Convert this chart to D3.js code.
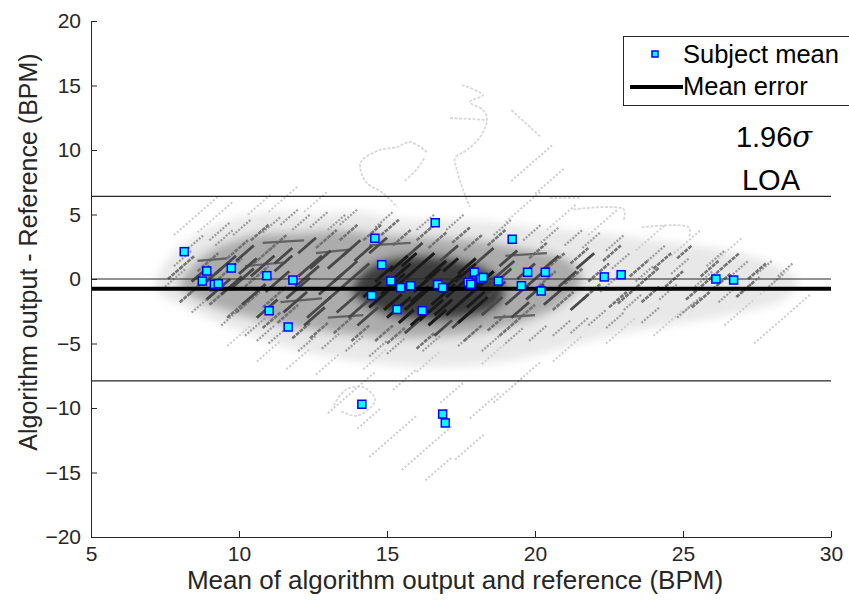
<!DOCTYPE html>
<html>
<head>
<meta charset="utf-8">
<script src="https://cdn.jsdelivr.net/npm/d3@7"></script>
<style>
  body { margin: 0; background: #fff; }
  svg { display: block; font-family: "Liberation Sans", Arial, sans-serif; }
</style>
</head>
<body>
<div id="chart"></div>
<script>
// Subject means (x = mean of output and reference, y = difference)
const subjectX = [8.15, 8.91, 8.76, 9.17, 9.30, 9.74, 10.94, 11.82, 11.02, 11.66,
                  14.59, 14.82, 15.13, 15.46, 15.80, 14.48, 15.34, 16.19, 16.63, 16.71,
                  16.88, 17.74, 17.83, 17.95, 18.17, 18.25, 18.76, 19.23, 19.75, 20.35,
                  19.54, 20.21, 22.34, 22.91, 26.11, 26.71, 14.15, 16.88, 16.97];
const subjectY = [2.12, 0.62, -0.16, -0.41, -0.36, 0.85, 0.26, -0.08, -2.46, -3.72,
                  3.16, 1.11, -0.16, -0.67, -0.52, -1.28, -2.36, -2.46, 4.36, -0.43,
                  -0.67, -0.25, -0.41, 0.53, 0.0, 0.12, -0.16, 3.08, 0.52, 0.52,
                  -0.52, -0.93, 0.16, 0.33, 0.0, -0.08, -9.71, -10.47, -11.16];

const meanError = -0.75;
const upperLOA = 6.4;
const lowerLOA = -7.9;

const xTicks = [5, 10, 15, 20, 25, 30];
const yTicks = [-20, -15, -10, -5, 0, 5, 10, 15, 20];

// Envelopes of the per-sample cloud (outer, middle, core)
const hazeOuter = [[7.2,-0.8],[7.5,1.2],[8.3,3.0],[9.5,4.4],[11,5.2],[12.5,5.0],[14,5.2],[15.5,4.6],
  [17,4.6],[18.5,4.4],[20,4.0],[22,3.6],[24,3.0],[26,2.4],[27.8,1.4],[28.9,-0.2],[28.2,-1.8],
  [26.5,-2.8],[24.5,-3.6],[22.5,-4.4],[20.5,-5.6],[19,-6.4],[17,-6.8],[15,-6.6],[13,-6.0],
  [11.2,-5.0],[9.6,-3.6],[8.2,-2.2]];
const hazeMid = [[8.0,-0.6],[8.4,1.0],[9.2,2.4],[10.5,3.4],[12,3.6],[13.5,3.8],[15,3.4],[16.5,3.2],
  [18,3.0],[19.5,2.4],[21,1.6],[21.6,0],[21,-1.8],[19.8,-3.2],[18,-4.2],[16,-4.6],[14,-4.4],
  [12,-3.8],[10.4,-3.0],[9,-2.0]];
const hazeCore = [[13.8,-0.8],[14.4,1.0],[15.6,1.8],[17,1.7],[18.4,0.8],[19.0,-0.8],[18.6,-2.4],
  [17.2,-3.2],[15.6,-3.1],[14.4,-2.2]];

// Per-sample streaks [x1, y1, x2, y2]
const coreStreaks = [[14.4,-2.2,15.2,-0.6],[14.8,-1.2,15.6,0.4],[15.0,-3.0,15.8,-1.4],[15.3,-0.6,16.0,0.8],
  [15.6,-2.4,16.4,-0.8],[15.9,-1.0,16.6,0.4],[16.1,-3.2,16.9,-1.6],[16.3,0.0,17.0,1.4],[16.5,-2.0,17.3,-0.4],
  [16.8,-1.0,17.5,0.4],[17.0,-2.8,17.8,-1.2],[17.3,-0.2,18.0,1.2],[17.5,-1.8,18.3,-0.2],[17.9,-0.8,18.6,0.6],
  [15.1,0.6,15.7,1.8],[16.0,0.8,16.6,2.0],[17.8,-2.6,18.4,-1.4],[14.6,-0.2,15.2,1.0],[16.4,-3.6,17.0,-2.4],
  [15.4,-3.4,15.9,-2.4],[14.2,-1.4,14.8,-0.2],[14.9,-2.4,15.5,-1.2],[15.2,0.0,15.8,1.2],[15.8,-1.8,16.4,-0.6],
  [16.2,-0.4,16.8,0.8],[16.6,-2.8,17.2,-1.6],[17.0,-1.4,17.6,-0.2],[17.4,0.4,18.0,1.6],[17.7,-2.2,18.3,-1.0],
  [18.0,-0.6,18.6,0.6],[15.5,1.0,16.0,2.0],[16.9,0.6,17.4,1.6],[15.8,-3.6,16.4,-2.4],[17.4,-3.4,18.0,-2.2]];
const darkStreaks = [[11.6,-1.5,12.4,0.1],[12.0,0.2,12.8,1.8],[12.3,-3.0,13.1,-1.4],[12.7,-1.2,13.5,0.4],
  [13.0,0.8,13.7,2.2],[13.3,-2.6,14.1,-1.0],[13.6,-0.4,14.4,1.2],[13.9,1.4,14.5,2.6],[14.0,-3.6,14.7,-2.2],
  [14.4,2.0,15.0,3.2],[15.6,1.6,16.2,2.8],[16.8,1.4,17.4,2.6],[17.2,-3.8,17.8,-2.6],[18.2,-2.8,18.9,-1.4],
  [18.5,-0.6,19.2,0.8],[18.8,1.0,19.4,2.2],[19.0,-2.0,19.7,-0.6],[19.4,0.0,20.0,1.2],[19.7,-1.6,20.3,-0.4],
  [18.0,1.2,18.6,2.4],[16.6,-4.4,17.2,-3.2],[15.6,-4.2,16.2,-3.0],[12.0,2.0,12.6,3.2],[11.2,0.6,11.8,1.8],
  [9.4,-1.2,10.1,0.2],[10.0,0.4,10.6,1.6],[8.8,-0.4,9.4,0.8],
  [8.9,-1.6,9.7,0.0],[9.2,0.4,9.9,1.8],[9.7,-0.8,10.5,0.8],[10.1,-2.0,10.9,-0.4],[10.4,0.2,11.2,1.8],
  [10.9,-1.0,11.7,0.6],[11.2,1.2,11.8,2.4],[11.5,-2.6,12.3,-1.0],[11.9,-0.6,12.7,1.0],[12.4,0.8,13.1,2.2],
  [12.8,-2.0,13.6,-0.4],[13.2,-0.2,14.0,1.4],[13.5,1.8,14.1,3.0],[8.4,-0.2,9.0,1.0],[9.9,1.4,10.5,2.6],
  [10.6,-3.0,11.3,-1.6],[12.2,-3.6,12.9,-2.2],[13.7,-3.0,14.4,-1.6],
  [18.3,-1.6,19.0,-0.2],[18.7,0.2,19.3,1.4],[19.2,-3.0,19.8,-1.8],[19.6,-0.8,20.3,0.6],[20.2,0.6,20.8,1.8],
  [20.3,-2.0,20.9,-0.8],[20.8,-0.6,21.4,0.6],[21.2,-2.4,21.8,-1.2],[21.4,0.8,22.0,2.0]];
// Flat runs where output and reference drift together
const darkFlats = [[9.0,-0.9,10.6,-0.7],[10.2,1.0,11.6,1.3],[11.4,-1.8,12.8,-1.5],[12.6,2.0,13.8,2.3],
  [8.6,1.4,9.6,1.6],[13.0,-3.0,14.2,-2.8],[14.4,2.6,15.8,2.8],[18.6,-3.0,20.0,-2.8],[19.0,1.8,20.4,2.0],
  [10.8,2.8,12.2,3.0]];
const midStreaks = [[8.3,-1.2,9.1,0.4],[8.6,0.6,9.3,2.0],[9.0,-2.0,9.8,-0.4],[9.3,0.0,10.1,1.6],
  [9.6,1.6,10.3,3.0],[9.9,-2.6,10.7,-1.0],[10.2,-0.6,11.0,1.0],[10.5,1.2,11.2,2.6],[10.8,-2.2,11.6,-0.6],
  [11.0,2.2,11.6,3.4],[11.3,-3.4,12.0,-2.0],[10.4,3.0,11.0,4.2],[12.6,2.4,13.3,3.8],[13.2,-4.2,13.9,-2.8],
  [14.2,3.0,14.8,4.2],[15.2,2.6,15.8,3.8],[16.4,2.4,17.0,3.6],[17.6,2.2,18.2,3.4],[18.4,-4.0,19.0,-2.8],
  [19.3,-3.4,20.0,-2.0],[19.8,1.6,20.4,2.8],[20.0,-0.8,20.7,0.6],[20.4,0.8,21.0,2.0],[20.6,-2.4,21.3,-1.0],
  [21.0,-0.4,21.6,0.8],[21.2,1.2,21.8,2.4],[21.6,-1.6,22.2,-0.4],[8.0,0.8,8.5,1.8],[12.4,-4.6,13.0,-3.4],
  [14.6,-4.8,15.2,-3.6],[22.8,-1.9,24.2,0.9],[25.1,-1.6,26.4,1.0],
  [21.8,-0.2,22.5,1.2],[22.3,1.4,22.9,2.6],[22.5,-2.2,23.1,-1.0],[23.2,0.2,23.8,1.4],[23.6,-1.8,24.2,-0.6],
  [24.0,0.8,24.6,2.0],[24.4,-0.6,25.0,0.6],[24.8,1.6,25.3,2.6],[25.3,-2.2,25.9,-1.0],[25.6,0.2,26.2,1.4],
  [26.0,-0.8,26.6,0.4],[26.4,1.0,26.9,2.0],[26.8,-1.4,27.4,-0.2],[27.2,0.0,27.8,1.2],
  [13.4,3.0,14.0,4.2],[14.8,3.4,15.4,4.6],[16.0,3.0,16.6,4.2],[17.2,2.8,17.8,4.0],[18.4,2.6,19.0,3.8],
  [13.8,-4.8,14.4,-3.6],[15.0,-5.0,15.6,-3.8],[16.0,-5.4,16.6,-4.2],[17.6,-4.8,18.2,-3.6],[18.8,-4.4,19.4,-3.2],
  [11.8,-4.6,12.4,-3.4],[10.8,-3.8,11.4,-2.6],[9.6,-3.0,10.2,-1.8],[8.0,-1.8,8.6,-0.6],[7.6,0.0,8.1,1.0]];
const lightStreaks = [[7.5,-0.6,8.2,0.8],[7.8,1.0,8.4,2.2],[8.2,2.2,8.8,3.4],[8.4,-2.6,9.1,-1.2],
  [9.2,2.6,9.8,3.8],[9.4,-3.6,10.1,-2.2],[10.2,-4.4,10.9,-3.0],[10.8,3.6,11.4,4.8],[11.0,-5.0,11.6,-3.8],
  [11.8,3.8,12.4,5.0],[12.0,-5.6,12.6,-4.4],[13.0,3.8,13.6,5.0],[13.6,-5.6,14.2,-4.4],[15.0,-5.8,15.6,-4.6],
  [16.0,3.8,16.6,5.0],[16.2,-5.6,16.8,-4.4],[17.4,-5.2,18.0,-4.0],[18.6,3.4,19.2,4.6],[19.0,-5.0,19.6,-3.8],
  [20.2,2.8,20.8,4.0],[20.6,-4.4,21.2,-3.2],[21.6,2.4,22.2,3.6],[21.8,-3.6,22.4,-2.4],[22.2,-1.0,22.9,0.4],
  [22.6,0.8,23.2,2.0],[23.0,-2.4,23.6,-1.2],[23.4,-0.2,24.0,1.0],[23.8,1.4,24.4,2.6],[24.2,-1.6,24.8,-0.4],
  [24.6,0.4,25.2,1.6],[25.0,-2.6,25.6,-1.4],[25.4,-0.6,26.0,0.6],[25.8,1.0,26.4,2.2],[26.2,-1.8,26.8,-0.6],
  [26.6,0.2,27.2,1.4],[27.0,-1.0,27.6,0.2],[27.5,0.4,28.0,1.4],
  [9.0,3.0,9.7,4.4],[9.8,3.4,10.4,4.6],[11.4,4.2,12.0,5.4],[12.4,4.0,13.0,5.2],[13.4,4.2,14.0,5.4],
  [14.6,4.0,15.2,5.2],[17.0,3.8,17.6,5.0],[19.6,3.0,20.2,4.2],[21.0,2.6,21.6,3.8],[22.4,2.2,23.0,3.4],
  [24.8,-3.0,25.4,-1.8],[23.6,-3.4,24.2,-2.2],[22.4,-3.8,23.0,-2.6],[21.2,-4.2,21.8,-3.0],[19.8,-4.8,20.4,-3.6],
  [18.2,-5.6,18.8,-4.4],[14.4,-6.0,15.0,-4.8],[12.8,-5.4,13.4,-4.2],[10.6,-4.8,11.2,-3.6],[27.8,-0.8,28.4,0.4],
  [28.2,0.2,28.7,1.2]];
const faintStreaks = [[7.8,3.4,9.3,6.4],[8.6,3.6,9.8,6.0],[10.3,5.0,11.1,6.6],[11.0,5.2,12.0,7.2],
  [12.2,5.2,13.0,6.8],[9.6,-5.2,10.4,-3.6],[10.6,-6.4,11.4,-4.8],[11.6,-7.0,12.4,-5.4],[12.6,-7.4,13.4,-5.8],
  [13.0,-10.4,14.6,-7.2],[14.4,-13.8,16.0,-10.6],[15.5,-14.8,17.2,-11.4],[16.3,-15.6,17.2,-13.8],
  [17.3,-14.0,18.3,-12.0],[17.8,-10.8,18.8,-8.8],[18.6,-9.6,19.6,-7.6],[19.2,-8.4,20.2,-6.4],
  [16.8,-9.6,17.6,-8.0],[15.2,-8.6,16.0,-7.0],[14.0,-11.6,14.8,-10.0],[19.0,4.4,20.2,6.8],[20.4,3.8,21.4,5.8],
  [21.8,3.4,22.8,5.4],[23.4,2.2,24.4,4.2],[24.6,1.8,25.6,3.8],[26.0,1.2,27.0,3.2],[27.6,-1.2,28.6,0.8],
  [26.4,-3.6,27.4,-1.6],[24.0,-4.4,25.0,-2.4],[22.4,-5.0,23.4,-3.0],[20.6,-6.4,21.6,-4.4],[18.2,-6.6,19.0,-5.0],
  [16.0,-7.2,16.8,-5.6],[14.2,-7.0,15.0,-5.4],[19.2,7.6,20.6,10.4],[20.0,6.6,21.0,8.6],[27.4,-5.0,29.3,-1.2]];

// Slow drifting traces (light gray)
const meanders = [
  [[17.53,15.04],[18.24,14.26],[17.80,13.72],[18.24,13.10],[18.38,12.33],[18.14,11.0],[17.70,10.0],[17.30,9.38],[17.36,8.45],[17.57,6.9],[17.8,5.58]],
  [[17.13,12.48],[18.38,12.33]],
  [[16.35,9.84],[15.78,10.62],[15.34,10.23],[14.76,10.0],[14.16,9.22],[14.09,8.68],[14.32,7.44],[14.86,6.67],[15.34,5.58]],
  [[15.6,7.6],[16.0,8.5],[16.3,9.5]],
  [[19.2,13.1],[20.2,11.0]],
  [[21.3,5.4],[23.0,5.4],[23.0,4.6]],
  [[23.6,4.0],[25.2,4.0],[25.2,3.2]],
  [[20.5,6.3],[21.5,6.3]],
  [[13.2,-9.8],[13.6,-8.6],[14.2,-8.4],[14.6,-9.4],[14.0,-10.6],[13.4,-10.2]]
];

const width = 849, height = 601;
const margin = {top: 21, right: 18, bottom: 64, left: 91};
const axisColor = "#262626";

const svg = d3.select("#chart").append("svg")
              .attr("width", width)
              .attr("height", height);

const x = d3.scaleLinear().domain([5, 30]).range([margin.left, width - margin.right]);
const y = d3.scaleLinear().domain([-20, 20]).range([height - margin.bottom, margin.top]);

const defs = svg.append("defs");
defs.append("filter").attr("id", "soft")
    .attr("x", "-20%").attr("y", "-20%").attr("width", "140%").attr("height", "140%")
    .append("feGaussianBlur").attr("stdDeviation", 5);
defs.append("clipPath").attr("id", "plotclip")
    .append("rect")
    .attr("x", margin.left).attr("y", margin.top)
    .attr("width", width - margin.left - margin.right)
    .attr("height", height - margin.top - margin.bottom);

const cloud = svg.append("g").attr("clip-path", "url(#plotclip)");
const area = d3.line().x(d => x(d[0])).y(d => y(d[1])).curve(d3.curveCardinalClosed);

// haze layers
const hazeG = cloud.append("g").attr("filter", "url(#soft)");
hazeG.append("path").datum(hazeOuter).attr("d", area).attr("fill", "#e8e8e8");
hazeG.append("path").datum(hazeMid).attr("d", area).attr("fill", "#acacac");
hazeG.append("path").datum(hazeCore).attr("d", area).attr("fill", "#3c3c3c");

// meandering traces
const trace = d3.line().x(d => x(d[0])).y(d => y(d[1])).curve(d3.curveCatmullRom);
cloud.append("g").selectAll("path")
     .data(meanders)
     .enter()
     .append("path")
     .attr("d", trace)
     .attr("fill", "none")
     .attr("stroke", "#d8d8d8")
     .attr("stroke-width", 1.8)
     .attr("stroke-dasharray", "3,1.5");

function drawStreaks(data, color, w, dash) {
  cloud.append("g").selectAll("line")
       .data(data)
       .enter()
       .append("line")
       .attr("x1", d => x(d[0]))
       .attr("y1", d => y(d[1]))
       .attr("x2", d => x(d[2]))
       .attr("y2", d => y(d[3]))
       .attr("stroke", color)
       .attr("stroke-width", w)
       .attr("stroke-dasharray", dash);
}
drawStreaks(faintStreaks, "#cdcdcd", 2, "2,2");
drawStreaks(lightStreaks, "#9c9c9c", 2.2, "2,1.5");
drawStreaks(midStreaks, "#747474", 2.6, "4,1");
drawStreaks(darkFlats, "#626262", 2.2, null);
drawStreaks(darkStreaks, "#484848", 2.8, null);
drawStreaks(coreStreaks, "#1a1a1a", 3, null);

// reference lines
const hline = (v, w, c) => svg.append("line")
    .attr("x1", x(5)).attr("x2", x(30))
    .attr("y1", y(v)).attr("y2", y(v))
    .attr("stroke", c).attr("stroke-width", w);
hline(upperLOA, 1.2, axisColor);
hline(lowerLOA, 1.2, axisColor);
hline(0, 1.2, axisColor);
hline(meanError, 4, "#000");

// subject means
svg.append("g").selectAll("rect")
   .data(subjectX)
   .enter()
   .append("rect")
   .attr("x", d => x(d) - 4)
   .attr("y", (d, i) => y(subjectY[i]) - 4)
   .attr("width", 8)
   .attr("height", 8)
   .attr("fill", "#00ffff")
   .attr("stroke", "#0000ff")
   .attr("stroke-width", 1.5);

// axes (ticks point inwards, no box)
const xAxis = svg.append("g")
    .attr("transform", "translate(0," + y(-20) + ")")
    .call(d3.axisBottom(x).tickValues(xTicks).tickSizeInner(-6).tickSizeOuter(0).tickPadding(9));
const yAxis = svg.append("g")
    .attr("transform", "translate(" + x(5) + ",0)")
    .call(d3.axisLeft(y).tickValues(yTicks).tickSizeInner(-6).tickSizeOuter(0).tickPadding(10));
[xAxis, yAxis].forEach(a => {
  a.selectAll("path, line").attr("stroke", axisColor);
  a.selectAll("text").attr("fill", axisColor).attr("font-size", "21px")
   .attr("font-family", "'Liberation Sans', Arial, sans-serif");
});

svg.append("text")
   .attr("x", 455).attr("y", 589)
   .attr("text-anchor", "middle")
   .attr("font-size", "26px")
   .attr("fill", axisColor)
   .text("Mean of algorithm output and reference (BPM)");

svg.append("text")
   .attr("transform", "translate(37,252) rotate(-90)")
   .attr("text-anchor", "middle")
   .attr("font-size", "25px")
   .attr("fill", axisColor)
   .text("Algorithm output - Reference (BPM)");

// legend
const legend = svg.append("g");
legend.append("rect")
      .attr("x", 623.5).attr("y", 36.5)
      .attr("width", 240).attr("height", 69)
      .attr("fill", "#fff")
      .attr("stroke", axisColor)
      .attr("stroke-width", 1);
legend.append("rect")
      .attr("x", 652).attr("y", 51).attr("width", 6).attr("height", 6)
      .attr("fill", "#00ffff").attr("stroke", "#0000ff").attr("stroke-width", 1.5);
legend.append("line")
      .attr("x1", 630).attr("x2", 683).attr("y1", 87).attr("y2", 87)
      .attr("stroke", "#000").attr("stroke-width", 4);
legend.append("text").attr("x", 683).attr("y", 63)
      .attr("font-size", "25.5px").attr("fill", "#000").text("Subject mean");
legend.append("text").attr("x", 683).attr("y", 95)
      .attr("font-size", "25.5px").attr("fill", "#000").text("Mean error");

// LOA annotation
const ann = svg.append("text")
   .attr("x", 774).attr("y", 147)
   .attr("text-anchor", "middle")
   .attr("font-size", "29px")
   .attr("fill", "#000");
ann.append("tspan").text("1.96");
ann.append("tspan").attr("font-style", "italic").attr("font-family", "'DejaVu Serif', serif").text("σ");
svg.append("text")
   .attr("x", 771).attr("y", 190)
   .attr("text-anchor", "middle")
   .attr("font-size", "29px")
   .attr("fill", "#000")
   .text("LOA");
</script>
</body>
</html>
